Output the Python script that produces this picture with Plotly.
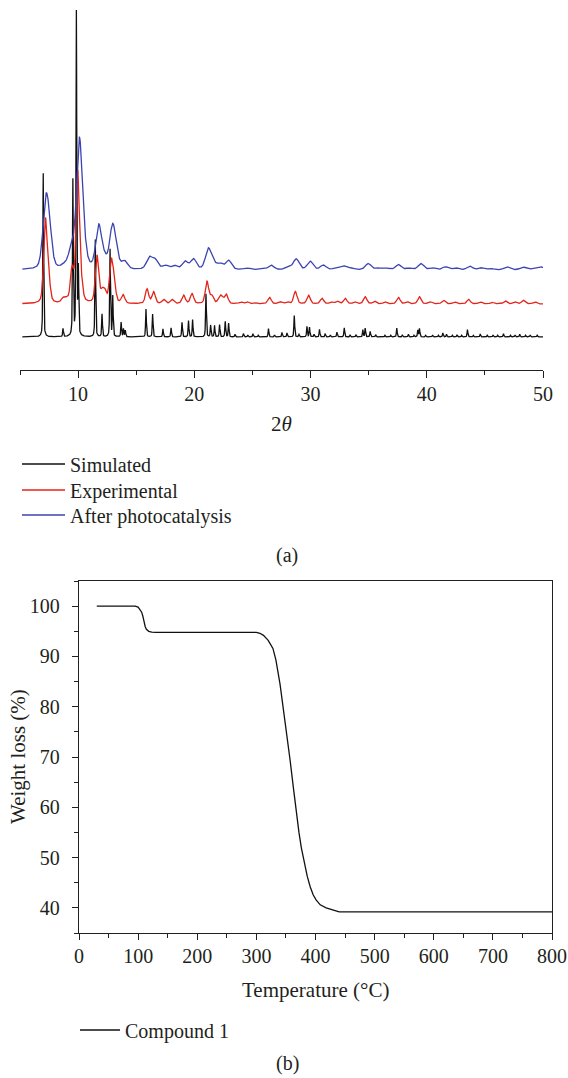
import numpy as np
import plotly.graph_objects as go

# ---------------- (a) PXRD data: peak positions (2theta) and apparent heights ----------------
sim_pos = [7.0, 8.7, 9.55, 9.85, 10.02, 11.48, 12.06, 12.75, 12.98, 13.7, 13.9, 14.06, 15.84, 16.41,
           17.3, 18.0, 18.94, 19.5, 19.85, 21.0, 21.4, 21.74, 22.17, 22.66, 22.95, 23.5, 24.23, 24.6,
           25.04, 25.5, 26.38, 26.9, 27.54, 27.97, 28.6, 29.0, 29.69, 29.91, 30.3, 30.77, 31.26, 31.7,
           32.27, 32.9, 33.4, 33.9, 34.5, 34.7, 35.13, 35.6, 36.4, 36.9, 37.42, 37.9, 38.42, 38.9,
           39.23, 39.37, 39.9, 40.5, 41.0, 41.38, 41.7, 42.2, 42.6, 43.0, 43.5, 44.0, 44.6, 45.2,
           45.7, 46.1, 46.6, 47.2, 47.6, 48.0, 48.5, 48.9, 49.5]
sim_int = [50.5, 2.5, 48, 100, 20, 30, 7, 27, 12.5, 4.5, 2.5, 2, 8.6, 7,
           2.5, 2.8, 4.5, 5, 5.3, 13.3, 3.6, 3.5, 3.8, 4.8, 4.2, 0.8, 1.0, 0.6,
           1.0, 0.5, 2.6, 0.6, 1.4, 1.2, 6.6, 0.8, 3.2, 3.0, 0.8, 2.3, 1.0, 0.6,
           1.5, 2.8, 0.6, 0.7, 2.2, 2.7, 1.7, 0.7, 0.5, 0.5, 2.7, 0.6, 0.8, 0.5,
           2.1, 2.6, 0.5, 0.6, 0.5, 1.2, 0.8, 0.5, 0.7, 0.5, 2.3, 0.5, 0.9, 0.5,
           0.6, 0.5, 1.0, 0.5, 0.6, 0.8, 0.5, 0.6, 0.5]

exp_pos = [7.18, 7.45, 8.7, 9.0, 9.48, 9.96, 10.25, 11.63, 12.06, 12.3, 12.83, 13.08, 13.87, 15.93,
           16.5, 17.36, 18.08, 19.08, 19.8, 21.09, 21.5, 22.17, 22.37, 22.75, 24.0, 24.53, 25.2,
           26.47, 27.4, 28.0, 28.69, 29.83, 30.98, 31.8, 32.3, 32.98, 33.8, 34.7, 35.5, 36.4, 37.56,
           38.3, 39.37, 40.3, 41.44, 42.4, 43.6, 44.6, 45.6, 46.75, 47.6, 48.3, 49.3]
exp_int = [25, 7, 1.3, 1.0, 10, 40, 5, 14.5, 3, 3, 12, 6.5, 2.6, 4.5,
           3.6, 1.3, 1.3, 2.6, 3.1, 6.8, 2.4, 1.8, 1.5, 2.8, 0.5, 0.6, 0.4,
           2.0, 0.6, 0.6, 3.8, 2.6, 1.7, 0.6, 0.8, 1.7, 0.6, 2.2, 0.8, 0.6, 2.0,
           0.6, 2.2, 0.6, 1.1, 0.6, 1.4, 0.6, 0.5, 0.9, 0.6, 1.1, 0.6]

aft_pos = [7.2, 7.5, 8.8, 9.3, 9.45, 10.1, 10.45, 11.77, 12.25, 12.95, 13.25, 14.0, 16.13, 16.64,
           17.5, 18.28, 19.2, 19.93, 21.2, 21.65, 22.23, 22.95, 24.53, 25.7, 26.6, 28.1, 28.77,
           29.97, 31.1, 32.2, 32.84, 33.5, 34.96, 35.8, 36.5, 37.56, 38.5, 39.5, 40.5, 41.6, 42.5,
           43.7, 44.7, 45.5, 46.9, 48.3, 49.3, 49.8]
aft_int = [18, 10, 0.8, 1.0, 4.5, 38, 6, 13, 2.5, 12, 3.5, 2.3, 3.6, 2.8,
           1.2, 1.2, 2.5, 3.2, 6.3, 1.6, 1.7, 2.8, 0.5, 0.3, 1.4, 0.9, 3.3,
           2.6, 1.4, 0.6, 1.1, 0.5, 1.9, 0.5, 0.5, 1.6, 0.5, 1.9, 0.6, 0.9, 0.6,
           1.1, 0.6, 0.4, 0.9, 0.8, 0.5, 0.9]

series_names = ["Simulated", "Experimental", "After photocatalysis"]
series_offsets = [0.0, 10.2, 20.7]      # vertical stacking of the patterns
series_fwhm = [0.08, 0.34, 0.58]        # peak widths (degrees 2theta)
series_eta = [0.5, 0.35, 0.3]           # Lorentzian fraction of the peak shape
x_tick_vals_a = [10, 20, 30, 40, 50]

# ---------------- (b) TGA data ----------------
tga_temp = [30, 95, 100, 103, 106, 108, 110, 112, 114, 118, 123, 130, 300, 306, 312, 320, 328,
            333, 340, 346, 352, 357, 363, 368, 372, 376, 381, 386, 391, 396, 401, 408, 418, 428,
            440, 800]
tga_weight = [100, 100, 99.8, 99.3, 98.8, 98.0, 96.8, 95.9, 95.4, 95.0, 94.85, 94.8, 94.8, 94.6,
              94.2, 93.2, 91.6, 89.3, 84.5, 79.3, 74.3, 69.4, 63.5, 58.5, 55.0, 52.0, 49.0, 46.3,
              44.2, 42.6, 41.6, 40.6, 40.0, 39.6, 39.2, 39.2]


def profile(x, pos, hgt, fwhm, eta):
    y = np.zeros_like(x)
    hw = fwhm / 2.0
    sig = fwhm / 2.3548
    for p, h in zip(pos, hgt):
        d = x - p
        lor = 1.0 / (1.0 + (d / hw) ** 2)
        gau = np.exp(-0.5 * (d / sig) ** 2)
        y += h * (eta * lor + (1 - eta) * gau)
    return y


two_theta = np.arange(5.2, 50.0001, 0.01)
FONT = "Liberation Serif"
INK = "#231f20"
colors = ["#111111", "#e3241b", "#3c43b0"]
legend_ids = ["legend", "legend2", "legend3"]

fig = go.Figure()
peak_sets = [(sim_pos, sim_int), (exp_pos, exp_int), (aft_pos, aft_int)]
for i, (pos, hgt) in enumerate(peak_sets):
    yv = profile(two_theta, pos, hgt, series_fwhm[i], series_eta[i]) + series_offsets[i]
    fig.add_trace(go.Scatter(x=two_theta, y=yv, mode="lines", name=series_names[i],
                             line=dict(color=colors[i], width=1.3), xaxis="x", yaxis="y",
                             legend=legend_ids[i]))

fig.add_trace(go.Scatter(x=tga_temp, y=tga_weight, mode="lines", name="Compound 1",
                         line=dict(color="#111111", width=1.3),
                         xaxis="x2", yaxis="y2", legend="legend4"))

W, H = 568, 1078
def px(x):
    return x / W
def py(y):
    return 1 - y / H

tickfont = dict(family=FONT, size=20, color=INK)
legfont = dict(family=FONT, size=20, color=INK)

def leg(xpix, ypix_center, iw):
    return dict(x=px(xpix), y=py(ypix_center), xanchor="left", yanchor="middle",
                font=legfont, bgcolor="rgba(0,0,0,0)", itemwidth=iw, borderwidth=0)

fig.update_layout(
    template="none",
    width=W, height=H, autosize=False,
    margin=dict(l=0, r=0, t=0, b=0, pad=0, autoexpand=False),
    paper_bgcolor="white", plot_bgcolor="white",
    font=dict(family=FONT, size=20, color=INK),
    xaxis=dict(domain=[px(20), px(543)], range=[5, 50], anchor="y", automargin=False,
               showline=True, linecolor=INK, linewidth=1.3,
               ticks="outside", ticklen=7, tickwidth=1.3, tickcolor=INK,
               tickvals=x_tick_vals_a, tickfont=tickfont, ticklabelstandoff=-1,
               minor=dict(tickvals=[5, 15, 25, 35, 45], ticks="outside", ticklen=4,
                          tickwidth=1.3, tickcolor=INK),
               showgrid=False, zeroline=False),
    yaxis=dict(domain=[py(370), py(10)], range=[-10.2, 100.9], anchor="x", visible=False,
               automargin=False),
    xaxis2=dict(domain=[px(79), px(552)], range=[0, 800], anchor="y2", automargin=False,
                showline=True, mirror=True, linecolor=INK, linewidth=1.3,
                ticks="outside", ticklen=6, tickwidth=1.3, tickcolor=INK,
                tick0=0, dtick=100, tickfont=tickfont, ticklabelstandoff=-1,
                minor=dict(tick0=0, dtick=50, ticks="outside", ticklen=4, tickwidth=1.3, tickcolor=INK),
                showgrid=False, zeroline=False),
    yaxis2=dict(domain=[py(933), py(581)], range=[35, 105], anchor="x2", automargin=False,
                showline=True, mirror=True, linecolor=INK, linewidth=1.3,
                ticks="outside", ticklen=6, tickwidth=1.3, tickcolor=INK,
                tick0=0, dtick=10, tickfont=tickfont, ticklabelstandoff=8,
                minor=dict(tick0=0, dtick=5, ticks="outside", ticklen=4, tickwidth=1.3, tickcolor=INK),
                showgrid=False, zeroline=False),
    xaxis3=dict(overlaying="x2", anchor="y2", side="top", range=[0, 800], automargin=False,
                tickvals=[80, 160, 240, 320, 400, 480, 560, 640, 720],
                ticks="outside", ticklen=4, tickwidth=1.3, tickcolor=INK,
                showticklabels=False, showline=False, showgrid=False, zeroline=False),
    yaxis3=dict(overlaying="y2", anchor="x2", side="right", range=[35, 105], automargin=False,
                tickvals=[42, 49, 56, 63, 70, 77, 84, 91, 98],
                ticks="outside", ticklen=4, tickwidth=1.3, tickcolor=INK,
                showticklabels=False, showline=False, showgrid=False, zeroline=False),
    legend=leg(17, 464, 43),
    legend2=leg(17, 490, 43),
    legend3=leg(17, 515, 43),
    legend4=leg(75, 1030, 40),
    showlegend=True,
    hovermode=False,
    annotations=[
        dict(text="2<i>θ</i>", x=px(281.5), y=py(424), xref="paper", yref="paper",
             showarrow=False, xanchor="center", yanchor="middle",
             font=dict(family=FONT, size=21, color=INK)),
        dict(text="(a)", x=px(287), y=py(555), xref="paper", yref="paper",
             showarrow=False, xanchor="center", yanchor="middle",
             font=dict(family=FONT, size=20, color=INK)),
        dict(text="Weight loss (%)", x=px(18), y=py(757), xref="paper", yref="paper",
             showarrow=False, xanchor="center", yanchor="middle", textangle=-90,
             font=dict(family=FONT, size=21, color=INK)),
        dict(text="Temperature (°C)", x=px(315.5), y=py(990), xref="paper", yref="paper",
             showarrow=False, xanchor="center", yanchor="middle",
             font=dict(family=FONT, size=21, color=INK)),
        dict(text="(b)", x=px(287), y=py(1063), xref="paper", yref="paper",
             showarrow=False, xanchor="center", yanchor="middle",
             font=dict(family=FONT, size=20, color=INK)),
    ],
)

fig.write_html("out.html", config={"displayModeBar": False},
               post_script="document.body.style.margin='0';document.body.style.overflow='hidden';")
